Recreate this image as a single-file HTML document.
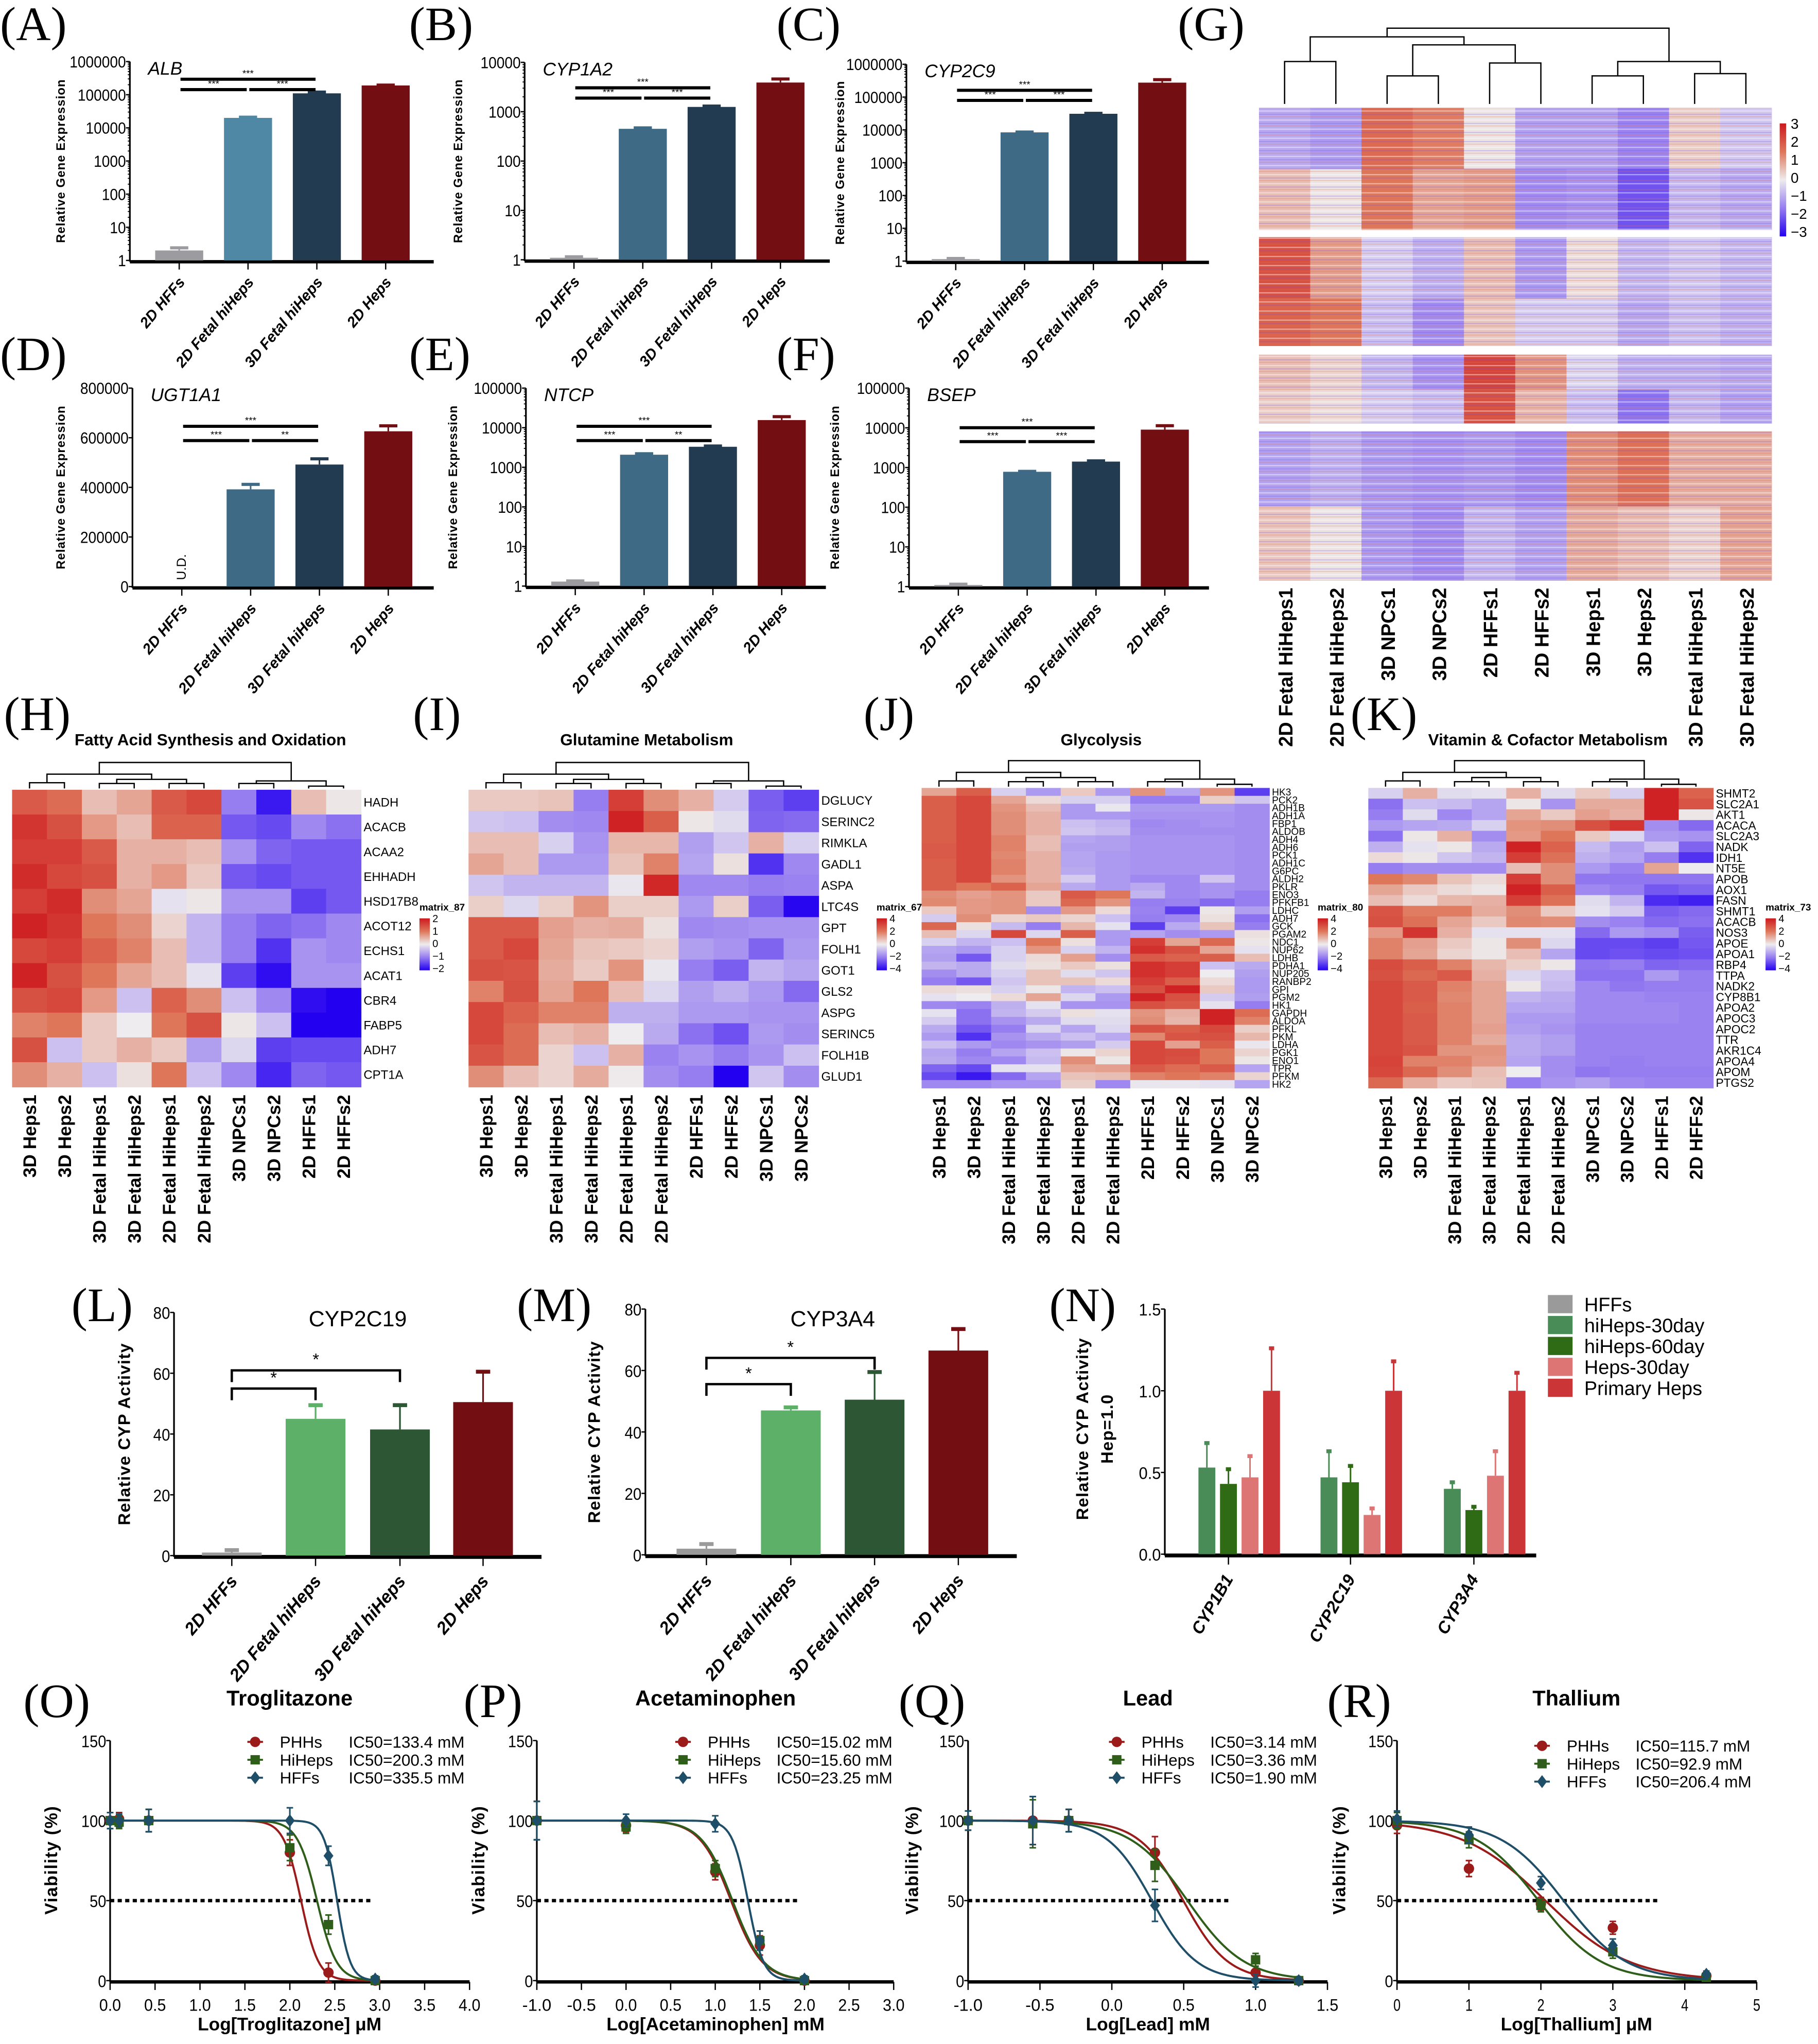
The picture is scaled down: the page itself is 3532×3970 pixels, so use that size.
<!DOCTYPE html>
<html><head><meta charset="utf-8"><style>
html,body{margin:0;padding:0;background:#fff;}
svg{display:block;}
text{font-family:"Liberation Sans",sans-serif;}
.pl{font-family:"Liberation Serif",serif;font-size:37px;}
</style></head><body>
<svg id="fig" xmlns="http://www.w3.org/2000/svg" width="3532" height="3970" viewBox="0 0 1400 1573.6" preserveAspectRatio="none">
<defs>
<pattern id="stripes" width="6" height="7" patternUnits="userSpaceOnUse"><rect x="0" y="1" width="6" height="0.9" fill="#fff" opacity="0.45"/><rect x="0" y="3.6" width="6" height="0.8" fill="#6a4ce8" opacity="0.28"/><rect x="0" y="5.6" width="6" height="0.7" fill="#e07050" opacity="0.3"/></pattern>
<linearGradient id="cbar" x1="0" y1="0" x2="0" y2="1"><stop offset="0" stop-color="#cd191e"/><stop offset="0.25" stop-color="#de765a"/><stop offset="0.5" stop-color="#eeecee"/><stop offset="0.75" stop-color="#967df0"/><stop offset="1" stop-color="#2300f0"/></linearGradient>
</defs>
<text class="pl" x="0" y="31">(A)</text>
<text class="pl" x="315" y="31">(B)</text>
<text class="pl" x="598" y="31">(C)</text>
<text class="pl" x="907" y="31">(G)</text>
<text class="pl" x="0" y="285">(D)</text>
<text class="pl" x="315" y="285">(E)</text>
<text class="pl" x="598" y="285">(F)</text>
<text class="pl" x="3" y="562">(H)</text>
<text class="pl" x="318" y="562">(I)</text>
<text class="pl" x="665" y="562">(J)</text>
<text class="pl" x="1040" y="562">(K)</text>
<text class="pl" x="55" y="1017">(L)</text>
<text class="pl" x="398" y="1017">(M)</text>
<text class="pl" x="808" y="1017">(N)</text>
<text class="pl" x="18" y="1322">(O)</text>
<text class="pl" x="357" y="1322">(P)</text>
<text class="pl" x="692" y="1322">(Q)</text>
<text class="pl" x="1022" y="1322">(R)</text>
</svg>
<script>
// ===== data: A-F gene expression =====
const exprCats=['2D HFFs','2D Fetal hiHeps','3D Fetal hiHeps','2D Heps'];
const albVals=[2,20000,110000,190000];
const albErr=[2.4,21000,120000,195000];
const cyp1a2Vals=[1.1,450,1250,3900];
const cyp1a2Err=[1.15,470,1300,4600];
const cyp2c9Vals=[1.15,8400,31000,276000];
const cyp2c9Err=[1.2,8600,32000,340000];
const ugtVals=[0,392000,492000,626000];
const ugtErr=[0,412000,515000,648000];
const ntcpVals=[1.3,2080,3300,15600];
const ntcpErr=[1.35,2200,3450,19000];
const bsepVals=[1.1,780,1410,9000];
const bsepErr=[1.15,800,1470,11300];
const logTickLabels=['1','10','100','1000','10000','100000','1000000'];
const ugtTicks=[0,200000,400000,600000,800000];
// ===== data: L-N CYP activity =====
const cypCats=['2D HFFs','2D Fetal hiHeps','3D Fetal hiHeps','2D Heps'];
const cyp2c19Act=[1,45,41.5,50.5];
const cyp2c19ActErr=[1.8,49.5,49.5,60.5];
const cyp3a4Act=[2,47,50.5,66.5];
const cyp3a4ActErr=[3.5,48,59.5,73.5];
const actTicks=[0,20,40,60,80];
const nGroups=['CYP1B1','CYP2C19','CYP3A4'];
const nSeries=['HFFs','hiHeps-30day','hiHeps-60day','Heps-30day','Primary Heps'];
const nHFF=[0,0,0];
const nHi30=[0.53,0.47,0.40];
const nHi60=[0.43,0.44,0.27];
const nHeps30=[0.47,0.24,0.48];
const nPrimary=[1.0,1.0,1.0];
const nHi30Err=[0.68,0.63,0.44];
const nHi60Err=[0.52,0.54,0.29];
const nHeps30Err=[0.60,0.28,0.63];
const nPrimaryErr=[1.26,1.18,1.11];
const nTicks=[0,0.5,1.0,1.5];
// ===== data: G heatmap (block means) =====
const gCols=['2D Fetal HiHeps1','2D Fetal HiHeps2','3D NPCs1','3D NPCs2','2D HFFs1','2D HFFs2','3D Heps1','3D Heps2','3D Fetal HiHeps1','3D Fetal HiHeps2'];
const gBlock1=[-0.9,-1.1,1.7,1.4,0.1,-1.0,-1.0,-1.4,0.4,-0.5];
const gBlock1b=[0.6,0.1,1.5,0.9,1.0,-1.3,-1.2,-2.0,-0.7,-0.9];
const gBlock2=[2.1,1.0,-0.4,-0.8,0.6,-1.1,0.2,-0.7,-0.5,-0.7];
const gBlock2b=[1.8,1.5,-0.6,-1.3,0.5,-0.4,-0.4,-0.9,-0.6,-0.8];
const gBlock3=[0.6,0.3,-0.7,-1.2,2.3,1.1,-0.3,-0.8,-0.8,-0.9];
const gBlock3b=[0.4,0.2,-0.4,-0.6,2.1,0.7,-0.6,-1.6,-0.7,-1.0];
const gBlock4=[-1.0,-0.8,-1.1,-1.2,-1.1,-1.3,1.2,1.6,0.8,0.8];
const gBlock4b=[0.5,0.1,-1.1,-1.3,-0.7,-1.0,0.8,0.6,0.3,0.9];
// ===== data: H-K heatmaps =====
const hCols=['3D Heps1','3D Heps2','3D Fetal HiHeps1','3D Fetal HiHeps2','2D Fetal HiHeps1','2D Fetal HiHeps2','3D NPCs1','3D NPCs2','2D HFFs1','2D HFFs2'];
const hRows=['HADH','ACACB','ACAA2','EHHADH','HSD17B8','ACOT12','ECHS1','ACAT1','CBR4','FABP5','ADH7','CPT1A'];
const hVals=[
[1.3,1.1,0.4,0.6,1.3,1.5,-1.0,-1.8,0.4,0.05],
[1.7,1.4,0.7,0.4,1.2,1.2,-1.3,-1.4,-0.9,-1.1],
[1.6,1.6,1.3,0.5,0.5,0.4,-0.8,-1.2,-1.3,-1.3],
[1.8,1.5,1.4,0.5,0.7,0.3,-1.3,-1.4,-1.3,-1.3],
[1.6,1.8,0.8,0.6,-0.1,0.05,-0.8,-0.8,-1.5,-1.3],
[1.9,1.7,1.0,0.8,0.2,-0.5,-1.0,-1.2,-1.1,-0.9],
[1.5,1.6,1.2,0.9,0.4,-0.5,-1.0,-1.6,-0.8,-0.9],
[1.9,1.4,1.0,0.6,0.4,-0.1,-1.5,-1.9,-0.8,-0.8],
[1.4,1.5,0.7,-0.4,1.2,0.8,-0.4,-0.9,-1.9,-2.0],
[0.9,1.0,0.3,0.0,1.0,1.4,0.05,-0.4,-2.0,-2.0],
[1.4,-0.4,0.3,0.5,0.3,-0.7,-0.2,-1.5,-1.4,-1.4],
[0.8,0.5,-0.4,0.1,1.0,-0.4,-0.9,-1.7,-1.2,-1.3]];
const iCols=['3D Heps1','3D Heps2','3D Fetal HiHeps1','3D Fetal HiHeps2','2D Fetal HiHeps1','2D Fetal HiHeps2','2D HFFs1','2D HFFs2','3D NPCs1','3D NPCs2'];
const iRows=['DGLUCY','SERINC2','RIMKLA','GADL1','ASPA','LTC4S','GPT','FOLH1','GOT1','GLS2','ASPG','SERINC5','FOLH1B','GLUD1'];
const iVals=[
[0.6,0.6,0.7,-2,3.2,1.6,1.0,-0.6,-2.5,-3],
[-0.7,-0.8,-1.7,-1.8,3.8,2.5,0.1,-0.3,-2.4,-2.3],
[0.8,0.8,-0.5,-1.6,0.9,0.9,-1.4,-0.7,1.0,-0.5],
[1.2,0.8,-1.5,-1.5,0.7,1.8,-1.3,0.2,-3.2,-1.8],
[-0.7,-1,-1,-1,-0.1,3.7,-1.8,-1.8,-2,-1.9],
[0.5,-0.4,0.5,1.5,0.5,0.5,-1.5,0.5,-2.5,-3.9],
[2.6,2.6,1.3,1.0,1.1,0.2,-1.8,-1.7,-1.6,-1.6],
[2.6,3.0,1.2,0.7,0.6,0.4,-1.4,-1.6,-2.4,-1.5],
[2.8,2.7,1.1,0.6,1.5,-0.1,-2,-2.5,-1,-1.3],
[1.8,2.8,1.2,2,0.8,-0.4,-1.4,-1.1,-1.5,-2.3],
[3.0,2.4,1.8,1.8,-1.1,-1.1,-1.5,-1.5,-1.6,-1.6],
[3.0,2.2,0.8,1.0,0,-1.2,-2.2,-2.7,-1.5,-1.7],
[2.7,2.2,0.4,-0.8,1.0,-1.9,-1.6,-2,-1.6,-0.8],
[1.6,0.8,0.4,1.1,0.05,-1.7,-2,-4,-0.7,-1.7]];
const jCols=['3D Heps1','3D Heps2','3D Fetal HiHeps1','3D Fetal HiHeps2','2D Fetal HiHeps1','2D Fetal HiHeps2','2D HFFs1','2D HFFs2','3D NPCs1','3D NPCs2'];
const jRows=['HK3','PCK2','ADH1B','ADH1A','FBP1','ALDOB','ADH4','ADH6','PCK1','ADH1C','G6PC','ALDH2','PKLR','ENO3','PFKFB1','LDHC','ADH7','GCK','PGAM2','NDC1','NUP62','LDHB','PDHA1','NUP205','RANBP2','GPI','PGM2','HK1','GAPDH','ALDOA','PFKL','PKM','LDHA','PGK1','ENO1','TPR','PFKM','HK2'];
const jVals=[
[1.2,2.5,-0.5,-1.5,0.6,-1.5,1.5,-1.3,1.5,-3],
[2.5,3,1.2,0.3,-0.5,-0.5,-2,-2,0.5,-0.7],
[2.5,3,1.5,0.8,-1.5,-0.1,-1.5,-1.5,-1.5,-1.7],
[2.5,3,1.6,1.0,-1.5,-1.5,-1.6,-1.6,-1.6,-1.7],
[2.5,3,1.6,1.0,-0.8,-1.0,-1.8,-1.7,-1.6,-1.7],
[2.5,3,1.6,1.0,-0.7,-0.9,-1.7,-1.7,-1.7,-1.7],
[2.5,3,1.8,0.8,-1.3,-1.4,-1.6,-1.6,-1.6,-1.7],
[2.6,3,1.8,0.8,-1.4,-1.4,-1.6,-1.6,-1.6,-1.7],
[2.6,3,1.7,1.0,-1.3,-1.5,-1.6,-1.6,-1.6,-1.7],
[2.5,3,1.8,1.0,-1.3,-1.5,-1.6,-1.6,-1.6,-1.7],
[2.5,3,1.8,1.0,-1.2,-1.5,-1.6,-1.6,-1.6,-1.7],
[2.5,3,1.5,1.0,-0.6,-1.5,-1.8,-1.8,-0.7,-1.7],
[2.5,2.0,2.4,1.2,-1.2,-1.5,-1.2,-1.8,-1.6,-1.7],
[1.6,1.3,1.5,0.6,2.6,2,-1,-1.8,-1.6,-2],
[1.7,1.4,1.5,0.6,2.3,1.5,-2.0,-1.9,-2.3,-2],
[0.6,1.4,1.5,-1.7,1.4,0.3,-1.9,-3,0.1,-1.4],
[-0.6,1.6,0.4,0.6,0.4,-0.8,-2,-1.8,0.2,-2.2],
[2.3,0.2,-0.9,-2,0.9,-0.2,-3,-1.2,0.7,-2],
[0.8,-0.4,3,-0.4,2.5,-1.5,-1.3,-1.7,-1.5,0.2],
[-0.5,-1,-0.8,2,0.2,-1.5,3.2,1.2,2.3,0.1],
[-1.3,-1.5,-0.5,1.5,-0.5,-1.0,3.5,2.8,1.2,-0.2],
[-1.4,-2.6,-0.5,0.3,1.3,-1.7,2.6,2.4,2.5,0.8],
[-1,-1.2,-0.3,0.2,0.6,0.2,3.5,3.2,-0.8,-1.2],
[-1.7,-1.2,-0.5,0.7,-0.3,-0.7,3.5,3.2,0.0,-1.4],
[-2,-2.6,-0.7,0.7,0.7,0.3,3.2,2.5,0.3,-1.5],
[0.3,0.2,-0.5,0.1,-1.0,-0.8,2.8,3.8,0.6,-1.5],
[-0.2,0.0,0.3,1.2,-0.4,-1.5,3.8,2.8,-0.6,-1.4],
[-1.8,-1.9,-1.1,-0.2,-1.6,-1.6,2.8,2.6,-0.2,-2.0],
[-0.2,-2.2,-1,-0.6,0.2,-0.2,1.5,1,3.8,2.2],
[-0.6,-2.2,-1.6,-1.2,-0.3,-0.3,1.6,0.9,3.8,1.8],
[-1.2,-2.6,-2,-0.4,-1.3,-0.4,2.8,2.5,3,0.5],
[-1.5,-3.2,-1.6,-1.2,-0.8,-1.2,1.7,2.7,2.8,0.9],
[-0.8,-1.5,-1.8,-1.6,-1.4,-0.6,3,1.3,2.5,-0.1],
[-1.3,-2,-1.3,-0.8,0.1,0.4,3,2.9,2,0.4],
[-1.2,-1.8,-1.8,-0.9,1.6,0.1,3,2.8,2,0.1],
[-2.4,-2.8,-0.2,-0.2,1.2,1.3,2.6,2.2,2.6,-1.3],
[-2.8,-3.6,-2.3,-1.3,0.7,0.8,1.8,2,1.8,0.4],
[-1.8,-1.8,-1.6,-1.6,0.5,-1.8,-0.1,-0.1,-0.2,-1.3]];
const kCols=['3D Heps1','3D Heps2','3D Fetal HiHeps1','3D Fetal HiHeps2','2D Fetal HiHeps1','2D Fetal HiHeps2','3D NPCs1','3D NPCs2','2D HFFs1','2D HFFs2'];
const kRows=['SHMT2','SLC2A1','AKT1','ACACA','SLC2A3','NADK','IDH1','NT5E','APOB','AOX1','FASN','SHMT1','ACACB','NOS3','APOE','APOA1','RBP4','TTPA','NADK2','CYP8B1','APOA2','APOC3','APOC2','TTR','AKR1C4','APOA4','APOM','PTGS2'];
const kVals=[
[-0.5,1,-0.3,-0.2,1,-0.3,0.6,-0.5,3.8,2.4],
[-2.2,-0.8,-0.9,-1.3,0.1,-1.6,1.1,1.1,3.8,2.7],
[-2,-0.3,-1.8,-1.3,1.2,0.6,1.3,1,3.8,0.1],
[-1.5,-1.3,-1.2,-0.5,1.5,1.6,2.8,3.4,-1.7,-2.3],
[-2.2,0.1,1.0,-1.7,1.4,2,0.6,-0.4,-1.5,-1.6],
[-1.1,-0.2,0.1,-1.2,3.8,2.4,-0.9,-1.4,-0.8,-2.4],
[0.3,0.1,-0.7,-1,3.2,2.1,-1.1,-1.3,-2,-3.2],
[-2,-1.7,-1.7,-1.7,0.8,1.6,-1.5,-1.9,1.2,0],
[2,1.7,0.7,0.3,3.2,1.6,-2.1,-2.1,-2.1,-2.1],
[1.2,0.6,0.3,0.1,3.8,2.5,-1.8,-2,-2.6,-2.4],
[0.8,0.3,0.9,1.0,3.2,2.1,-0.3,-1,-3.3,-3.5],
[2.7,1.9,1.9,1.1,1.6,0.6,-0.2,-0.6,-2.5,-2.3],
[2.8,2.1,1.2,0.6,1.7,1.6,-1.7,-1.9,-2.3,-2.2],
[1.4,3.4,1.0,-0.2,-0.2,-0.2,-2.3,-1.5,-1.7,-2.5],
[1.8,1.3,0.6,0.1,1.6,-0.4,-2.8,-2.8,-3,-2.6],
[1.8,1.2,0.4,0.1,0.8,-1.3,-2.8,-2.7,-2.8,-2.7],
[2.9,2.5,1.8,0.9,0.5,0.1,-2.1,-2,-2.4,-2.3],
[2.8,2.3,2.6,1,-0.4,-0.8,-2.2,-2.2,-1.5,-2],
[3,2.6,1.8,1.2,0.1,-0.9,-1.8,-2.1,-2,-2],
[3,2.6,1.7,1.2,-1,-1.2,-1.8,-1.8,-1.9,-1.9],
[3,2.5,1.8,1.2,-1.3,-1.3,-1.8,-1.8,-1.8,-1.9],
[3,2.6,1.8,1.2,-1.5,-1.5,-1.8,-1.8,-1.8,-1.9],
[3,2.6,1.8,1.3,-1.4,-1.6,-1.9,-1.9,-1.9,-1.9],
[3,2.6,1.8,1.1,-1.2,-1.4,-1.9,-1.9,-1.9,-1.9],
[3,2.7,1.5,1.5,-1.2,-1.4,-1.9,-1.9,-1.9,-1.9],
[3.1,1.8,1.8,1.4,-1.3,-1.7,-1.9,-2,-1.9,-1.9],
[3,2.3,1.6,0.8,0,-1.7,-2.1,-2,-2,-2],
[2.3,1.1,0.6,0.7,-2,-1.6,-1.4,-1.8,-1.9,-1.9]];
// ===== data: O-R dose response =====
const doseSeries=['PHHs','HiHeps','HFFs'];
const troX=[0,0.1,0.43,2.0,2.43,2.95];
const troPHH=[100,101,100,80,5,0];
const troHi=[100,99,100,83,35,0];
const troHFF=[100,100,100,100,78,1];
const troErr=[5,4,7,8,6,2];
const troLogIC=[2.125,2.302,2.526];
const troHill=[4.5,4,6];
const troIC=['IC50=133.4 mM','IC50=200.3 mM','IC50=335.5 mM'];
const apX=[-1,0,1,1.5,2];
const apPHH=[100,97,68,22,0];
const apHi=[100,96,70,25,0];
const apHFF=[100,100,98,25,1];
const apErr=[12,4,5,6,2];
const apLogIC=[1.177,1.193,1.366];
const apHill=[2.5,2.5,5];
const apIC=['IC50=15.02 mM','IC50=15.60 mM','IC50=23.25 mM'];
const pbX=[-1,-0.55,-0.3,0.3,1,1.3];
const pbPHH=[100,100,100,80,5,0];
const pbHi=[100,98,100,72,13,0];
const pbHFF=[100,100,100,47,0,0];
const pbErr=[6,15,7,10,4,2];
const pbLogIC=[0.497,0.526,0.279];
const pbHill=[2.8,2.2,2.8];
const pbIC=['IC50=3.14 mM','IC50=3.36 mM','IC50=1.90 mM'];
const tlX=[0,1,2,3,4.3];
const tlPHH=[97,70,48,33,3];
const tlHi=[100,88,47,18,2];
const tlHFF=[101,91,61,22,4];
const tlErr=[5,5,4,4,2];
const tlLogIC=[2.063,1.968,2.315];
const tlHill=[0.75,1.0,1.0];
const tlIC=['IC50=115.7 mM','IC50=92.9 mM','IC50=206.4 mM'];

// ===== helpers =====
const NS='http://www.w3.org/2000/svg';
const svg=document.getElementById('fig');
function mk(tag,attrs,parent){const e=document.createElementNS(NS,tag);for(const k in attrs)e.setAttribute(k,attrs[k]);(parent||svg).appendChild(e);return e;}
function nm(e,name,inter){
  
  
  return e;}
function txt(x,y,s,attrs,name){const e=mk('text',Object.assign({x:x,y:y},attrs||{}));e.textContent=s;nm(e,name||'label');return e;}
function line(x1,y1,x2,y2,st,w,name){return nm(mk('line',{x1:x1,y1:y1,x2:x2,y2:y2,stroke:st||'#000','stroke-width':w||1}),name||'line');}
function slug(s){return String(s).toLowerCase().replace(/[^a-z0-9]+/g,'-').replace(/^-|-$/g,'');}

// ===== bar chart A-F =====
function barPanel(p){
  const ymap=v=>{ if(p.log){const lv=Math.log10(Math.max(v,1));return p.yB-lv/p.dec*(p.yB-p.yT);} return p.yB-v/p.max*(p.yB-p.yT);};
  line(p.ax,p.yT,p.ax,p.yB+1,'#000',1.3,p.id+'-y-axis');
  line(p.ax,p.yB+1,p.end,p.yB+1,'#000',2.6,p.id+'-x-axis');
  const ticks=p.log?logTickLabels.slice(0,p.dec+1):p.ticks;
  ticks.forEach((t,i)=>{
    const v=p.log?Math.pow(10,i):t;const y=ymap(v);
    line(p.ax-3,y,p.ax,y,'#000',1,p.id+'-y-tick');
    if(p.log&&i<p.dec){for(let m=2;m<10;m++){const ym=ymap(v*m);line(p.ax-1.6,ym,p.ax,ym,'#000',0.7,p.id+'-minor-tick');}}
    const s=String(t);
    txt(p.ax-3,y+4.5,s,{'text-anchor':'end','font-size':12.5,textLength:s.length*6.2,lengthAdjust:'spacingAndGlyphs'},p.id+'-y-tick-label');
  });
  exprCats.forEach((c,i)=>{
    const cx=p.ax+38+53*i;
    line(cx,p.yB+1,cx,p.yB+7,'#000',1,p.id+'-x-tick');
    txt(cx+5,p.yB+17,c,{'text-anchor':'end','font-size':11.5,'font-weight':'bold','font-style':'italic',transform:'rotate(-50 '+(cx+5)+' '+(p.yB+17)+')'},p.id+'-x-label');
    const v=p.vals[i];
    if(v>0&&(!p.log||v>1)){
      const y=ymap(v),ye=ymap(p.errs[i]);
      nm(mk('rect',{x:cx-18.5,y:y,width:37,height:p.yB-y,fill:p.colors[i]}),p.id+'-bar-'+slug(c));
      if(ye<y-0.5){line(cx,y,cx,ye,p.colors[i],1.2,p.id+'-error-bar');}
      nm(mk('rect',{x:cx-7,y:ye-1.2,width:14,height:2.4,fill:p.colors[i]}),p.id+'-error-cap');
    }
  });
  if(p.ud){txt(p.ax+38+3,p.yB-5,'U.D.',{'font-size':10,transform:'rotate(-90 '+(p.ax+41)+' '+(p.yB-5)+')'},p.id+'-undetected-label');}
  txt(p.ax+14,p.yT+10,p.gene,{'font-size':14,'font-style':'italic'},p.id+'-gene-title');
  const cy=(p.yT+p.yB)/2;
  txt(p.ytx,cy,'Relative Gene Expression',{'text-anchor':'middle','font-size':9.5,'font-weight':'bold','letter-spacing':'0.4',transform:'rotate(-90 '+p.ytx+' '+cy+')'},p.id+'-y-axis-title');
  p.sigs.forEach(s=>{
    const x1=p.ax+38+53*s[0],x2=p.ax+38+53*s[1];
    line(x1+1,s[2],x2-1,s[2],'#000',2.4,p.id+'-significance-bar');
    txt((x1+x2)/2,s[2]-2,s[3],{'text-anchor':'middle','font-size':7.5},p.id+'-significance-stars');
  });
}
const colA=['#9c9ca0','#4f88a4','#233b50','#730f13'];
const colB=['#9c9ca0','#3e6a86','#233b50','#730f13'];
barPanel({id:'alb',ax:100,yT:47.4,yB:200.5,log:true,dec:6,end:334,vals:albVals,errs:albErr,colors:colA,gene:'ALB',ytx:50,sigs:[[0,2,61,'***'],[0,1,69,'***'],[1,2,69,'***']]});
barPanel({id:'cyp1a2',ax:404,yT:48,yB:200,log:true,dec:4,end:639,vals:cyp1a2Vals,errs:cyp1a2Err,colors:colB,gene:'CYP1A2',ytx:356,sigs:[[0,2,67.6,'***'],[0,1,75.5,'***'],[1,2,75.5,'***']]});
barPanel({id:'cyp2c9',ax:698,yT:49.5,yB:201,log:true,dec:6,end:931,vals:cyp2c9Vals,errs:cyp2c9Err,colors:colB,gene:'CYP2C9',ytx:650,sigs:[[0,2,69.5,'***'],[0,1,77.3,'***'],[1,2,77.3,'***']]});
barPanel({id:'ugt1a1',ax:102,yT:298.8,yB:451.6,log:false,max:800000,ticks:ugtTicks,end:334,vals:ugtVals,errs:ugtErr,colors:colB,gene:'UGT1A1',ytx:50,ud:true,sigs:[[0,2,328.2,'***'],[0,1,339.2,'***'],[1,2,339.2,'**']]});
barPanel({id:'ntcp',ax:405,yT:298.8,yB:451.2,log:true,dec:5,end:636,vals:ntcpVals,errs:ntcpErr,colors:colB,gene:'NTCP',ytx:352,sigs:[[0,2,328.2,'***'],[0,1,339.2,'***'],[1,2,339.2,'**']]});
barPanel({id:'bsep',ax:700,yT:298.8,yB:451.6,log:true,dec:5,end:931,vals:bsepVals,errs:bsepErr,colors:colB,gene:'BSEP',ytx:646,sigs:[[0,2,329.3,'***'],[0,1,340,'***'],[1,2,340,'***']]});

// ===== heatmap helpers =====
function hmColor(t){
  t=Math.max(-1,Math.min(1,t));
  const st=[[-1,[35,0,240]],[-0.5,[150,125,240]],[0,[238,236,238]],[0.5,[222,118,90]],[1,[205,25,30]]];
  for(let i=0;i<st.length-1;i++){if(t<=st[i+1][0]){const f=(t-st[i][0])/(st[i+1][0]-st[i][0]);const a=st[i][1],b=st[i+1][1];return 'rgb('+a.map((v,k)=>Math.round(v+(b[k]-v)*f)).join(',')+')';}}
  return 'rgb(205,25,30)';
}
function dendro(id,x0,cw,yLeaf,yTop,merges){
  const nodes=[];
  const pos=r=>{if(typeof r==='number')return {x:x0+cw*(r+0.5),y:yLeaf};return nodes[+r.slice(1)];};
  merges.forEach(m=>{
    const a=pos(m[0]),b=pos(m[1]);const y=yLeaf-(yLeaf-yTop)*m[2];
    nm(mk('path',{d:'M'+a.x+' '+a.y+'V'+y+'H'+b.x+'V'+b.y,fill:'none',stroke:'#000','stroke-width':1}),id+'-dendrogram-branch');
    nodes.push({x:(a.x+b.x)/2,y:y});
  });
}
const stdTree=[[0,1,0.22],[2,3,0.19],[4,5,0.19],['n1','n2',0.35],['n0','n3',0.55],[6,7,0.19],[8,9,0.09],['n5','n6',0.29],['n4','n7',1.0]];
function heatmap(p){
  const nr=p.rows.length,nc=p.cols.length;const cw=(p.x1-p.x0)/nc,rh=(p.y1-p.y0)/nr;
  p.vals.forEach((row,r)=>row.forEach((v,c)=>{
    nm(mk('rect',{x:p.x0+c*cw,y:p.y0+r*rh,width:cw+0.3,height:rh+0.3,fill:hmColor(v/p.vmax)}),p.id+'-cell');
  }));
  p.rows.forEach((g,r)=>txt(p.x1+2,p.y0+(r+0.5)*rh+p.fs*0.36,g,{'font-size':p.fs},p.id+'-row-label-'+slug(g)));
  p.cols.forEach((c,i)=>{const cx=p.x0+(i+0.5)*cw+5;txt(cx,p.y1+6,c,{'text-anchor':'end','font-size':14,'font-weight':'bold',transform:'rotate(-90 '+cx+' '+(p.y1+6)+')'},p.id+'-column-label');});
  dendro(p.id,p.x0,cw,p.y0-1,p.y0-21,stdTree);
  txt(p.tx,573.7,p.title,{'text-anchor':'middle','font-size':12.5,'font-weight':'bold'},p.id+'-title');
  txt(p.lx,701,p.legend,{'font-size':7.5,'font-weight':'bold'},p.id+'-legend-title');
  nm(mk('rect',{x:p.lx,y:707,width:8,height:40,fill:'url(#cbar)'}),p.id+'-colorbar');
  p.leg.forEach((l,i)=>txt(p.lx+10,710+i*9.6,l,{'font-size':8},p.id+'-colorbar-label'));
}
heatmap({id:'fatty-acid',x0:9.3,x1:278,y0:608,y1:836.8,rows:hRows,cols:hCols,vals:hVals,vmax:2,fs:9.5,title:'Fatty Acid Synthesis and Oxidation',tx:162,lx:323,legend:'matrix_87',leg:['2','1','0','\u22121','\u22122']});
heatmap({id:'glutamine',x0:360.8,x1:630.4,y0:608,y1:836.8,rows:iRows,cols:iCols,vals:iVals,vmax:4,fs:9.5,title:'Glutamine Metabolism',tx:498,lx:675,legend:'matrix_67',leg:['4','2','0','\u22122','\u22124']});
heatmap({id:'glycolysis',x0:709.7,x1:977.5,y0:606.6,y1:837.6,rows:jRows,cols:jCols,vals:jVals,vmax:4,fs:7.6,title:'Glycolysis',tx:848,lx:1014.7,legend:'matrix_80',leg:['4','2','0','\u22122','\u22124']});
heatmap({id:'vitamin',x0:1053.7,x1:1319.3,y0:606.6,y1:837.6,rows:kRows,cols:kCols,vals:kVals,vmax:4,fs:9,title:'Vitamin & Cofactor Metabolism',tx:1192,lx:1359.6,legend:'matrix_73',leg:['4','2','0','\u22122','\u22124']});

// ===== G heatmap =====
(function(){
  const x0=969.5,x1=1364.2,cw=(x1-x0)/10;
  const blocks=[[83,130,gBlock1],[130,177,gBlock1b],[182.6,230,gBlock2],[230,266.4,gBlock2b],[273,300,gBlock3],[300,326,gBlock3b],[332,390,gBlock4],[390,447,gBlock4b]];
  blocks.forEach(b=>b[2].forEach((v,c)=>{
    nm(mk('rect',{x:x0+c*cw,y:b[0],width:cw+0.3,height:b[1]-b[0],fill:hmColor(v/3)}),'g-heatmap-cell');
  }));
  [[83,177],[182.6,266.4],[273,326],[332,447]].forEach(b=>nm(mk('rect',{x:x0,y:b[0],width:x1-x0,height:b[1]-b[0],fill:'url(#stripes)'}),'g-heatmap-texture'));
  dendro('g',x0,cw,80,21.7,[[0,1,0.56],[2,3,0.37],[4,5,0.54],['n1','n2',0.78],['n0','n3',0.885],[6,7,0.37],[8,9,0.40],['n5','n6',0.56],['n4','n7',1.0]]);
  gCols.forEach((c,i)=>{const cx=x0+(i+0.5)*cw+6;txt(cx,452.5,c,{'text-anchor':'end','font-size':15,'font-weight':'bold',transform:'rotate(-90 '+cx+' 452.5)'},'g-column-label');});
  nm(mk('rect',{x:1370.5,y:95,width:5,height:87,fill:'url(#cbar)'}),'g-colorbar');
  ['3','2','1','0','\u22121','\u22122','\u22123'].forEach((l,i)=>txt(1379,99+i*13.9,l,{'font-size':11},'g-colorbar-label'));
})();

// ===== L, M activity bars =====
function actPanel(p){
  const ymap=v=>p.yB-v/80*(p.yB-p.yT);
  line(p.ax,p.yT,p.ax,p.yB+1,'#000',1.3,p.id+'-y-axis');
  line(p.ax,p.yB+1,p.end,p.yB+1,'#000',3,p.id+'-x-axis');
  actTicks.forEach(t=>{const y=ymap(t);line(p.ax-3,y,p.ax,y,'#000',1,p.id+'-y-tick');txt(p.ax-3,y+5,String(t),{'text-anchor':'end','font-size':13,textLength:String(t).length*6.5,lengthAdjust:'spacingAndGlyphs'},p.id+'-y-tick-label');});
  const cols=['#9a9a9a','#5cb068','#2d5734','#730f13'];
  cypCats.forEach((c,i)=>{
    const cx=p.centers[i];const y=ymap(p.vals[i]),ye=ymap(p.errs[i]);
    nm(mk('rect',{x:cx-23,y:y,width:46,height:p.yB-y,fill:cols[i]}),p.id+'-bar-'+slug(c));
    line(cx,y,cx,ye,cols[i],1.3,p.id+'-error-bar');
    nm(mk('rect',{x:cx-5.5,y:ye-1.5,width:11,height:3,fill:cols[i]}),p.id+'-error-cap');
    line(cx,p.yB+1,cx,p.yB+8,'#000',1,p.id+'-x-tick');
    txt(cx+5,p.yB+20,c,{'text-anchor':'end','font-size':13.5,'font-weight':'bold','font-style':'italic',transform:'rotate(-50 '+(cx+5)+' '+(p.yB+20)+')'},p.id+'-x-label');
  });
  txt((p.centers[1]+p.centers[2])/2,1021,p.title,{'text-anchor':'middle','font-size':17},p.id+'-title');
  const cy=(p.yT+p.yB)/2;
  txt(p.ytx,cy,'Relative CYP Activity',{'text-anchor':'middle','font-size':13,'font-weight':'bold','letter-spacing':'0.5',transform:'rotate(-90 '+p.ytx+' '+cy+')'},p.id+'-y-axis-title');
  p.br.forEach(b=>{
    const x1=p.centers[0],x2=p.centers[b[0]];
    nm(mk('path',{d:'M'+x1+' '+(b[1]+9)+'V'+b[1]+'H'+x2+'V'+(b[1]+9),fill:'none',stroke:'#000','stroke-width':1.8}),p.id+'-significance-bracket');
    txt((x1+x2)/2,b[1]-4,'*',{'text-anchor':'middle','font-size':13},p.id+'-significance-star');
  });
}
actPanel({id:'cyp2c19',ax:134,yT:1010.4,yB:1197.6,end:417,centers:[178.5,243,308,372],vals:cyp2c19Act,errs:cyp2c19ActErr,title:'CYP2C19',ytx:100,br:[[1,1069],[2,1055]]});
actPanel({id:'cyp3a4',ax:497,yT:1007.8,yB:1197,end:783,centers:[544,609,673.5,738],vals:cyp3a4Act,errs:cyp3a4ActErr,title:'CYP3A4',ytx:462,br:[[1,1065.6],[2,1045.4]]});

// ===== N grouped bars =====
(function(){
  const ax=897,yT=1007.8,yB=1196.5,end=1183;
  const ymap=v=>yB-v/1.5*(yB-yT);
  const gx=[946,1040,1135];
  const cols=['#9a9a9a','#4a8c57','#2f6b14','#de7575','#cc3537'];
  const series=[nHFF,nHi30,nHi60,nHeps30,nPrimary];
  const errs=[nHFF,nHi30Err,nHi60Err,nHeps30Err,nPrimaryErr];
  line(ax,yT,ax,yB+1,'#000',1.3,'n-y-axis');
  line(ax,yB+1,end,yB+1,'#000',3,'n-x-axis');
  nTicks.forEach(t=>{const y=ymap(t);line(ax-3,y,ax,y,'#000',1,'n-y-tick');txt(ax-3,y+5,t.toFixed(1),{'text-anchor':'end','font-size':13,textLength:17,lengthAdjust:'spacingAndGlyphs'},'n-y-tick-label');});
  nGroups.forEach((g,gi)=>{
    series.forEach((s,si)=>{
      if(s[gi]<=0)return;
      const cx=gx[gi]+(si-2)*16.6;const y=ymap(s[gi]),ye=ymap(errs[si][gi]);
      nm(mk('rect',{x:cx-6.5,y:y,width:13,height:yB-y,fill:cols[si]}),'n-bar-'+slug(g)+'-'+slug(nSeries[si]));
      line(cx,y,cx,ye,cols[si],1.2,'n-error-bar');
      nm(mk('rect',{x:cx-2,y:ye-1.5,width:4,height:3,fill:cols[si]}),'n-error-cap');
    });
    line(gx[gi],yB+1,gx[gi],yB+8,'#000',1,'n-x-tick');
    txt(gx[gi]+4,yB+19,g,{'text-anchor':'end','font-size':13,'font-weight':'bold','font-style':'italic',transform:'rotate(-60 '+(gx[gi]+4)+' '+(yB+19)+')'},'n-x-label');
  });
  nSeries.forEach((s,i)=>{
    const y=1004+i*16.1;
    nm(mk('rect',{x:1192,y:y-7,width:19,height:14,fill:cols[i]}),'n-legend-swatch');
    txt(1220,y+5.5,s,{'font-size':15},'n-legend-entry');
  });
  txt(838,1100,'Relative CYP Activity',{'text-anchor':'middle','font-size':13,'font-weight':'bold','letter-spacing':'0.5',transform:'rotate(-90 838 1100)'},'n-y-axis-title');
  txt(857,1100,'Hep=1.0',{'text-anchor':'middle','font-size':13,'font-weight':'bold','letter-spacing':'0.5',transform:'rotate(-90 857 1100)'},'n-y-axis-title-2');
})();

// ===== O-R dose response =====
const doseCols=['#9b1b1b','#2e5e1a','#1f4e68'];
function marker(shape,x,y,c,name){
  let e;
  if(shape===0)e=mk('circle',{cx:x,cy:y,r:4,fill:c});
  else if(shape===1)e=mk('rect',{x:x-3.6,y:y-3.6,width:7.2,height:7.2,fill:c});
  else e=mk('path',{d:'M'+x+' '+(y-5)+'L'+(x+3.8)+' '+y+'L'+x+' '+(y+5)+'L'+(x-3.8)+' '+y+'Z',fill:c});
  nm(e,name);return e;
}
function dosePanel(p){
  const ymap=v=>1524.8-v*1.232;
  const xmap=v=>p.x0+(v-p.xmin)*p.unit;
  line(p.ax,1340,p.ax,1525.8,'#000',1.3,p.id+'-y-axis');
  line(p.ax,1525.8,xmap(p.xticks[p.xticks.length-1]),1525.8,'#000',2.6,p.id+'-x-axis');
  [0,50,100,150].forEach(t=>{const y=ymap(t);line(p.ax-3,y,p.ax,y,'#000',1,p.id+'-y-tick');txt(p.ax-3,y+5,String(t),{'text-anchor':'end','font-size':13,textLength:String(t).length*6.4,lengthAdjust:'spacingAndGlyphs'},p.id+'-y-tick-label');});
  p.xticks.forEach(t=>{const x=xmap(t);line(x,1525.8,x,1532,'#000',1,p.id+'-x-tick');const s=p.dec?t.toFixed(1):String(t);txt(x,1548,s,{'text-anchor':'middle','font-size':13,textLength:s.length*5.6,lengthAdjust:'spacingAndGlyphs'},p.id+'-x-tick-label');});
  nm(mk('line',{x1:p.ax,y1:ymap(50),x2:p.dashEnd,y2:ymap(50),stroke:'#000','stroke-width':2.6,'stroke-dasharray':'3.2 2.6'}),p.id+'-ic50-reference-line');
  const ser=[p.phh,p.hi,p.hff];
  ser.forEach((s,si)=>{
    let d='';const x0=p.xs[0],x1=p.xs[p.xs.length-1];
    for(let k=0;k<=120;k++){const xv=x0+(x1-x0)*k/120;const yv=100/(1+Math.pow(10,p.hill[si]*(xv-p.logic[si])));d+=(k?'L':'M')+xmap(xv).toFixed(2)+' '+ymap(yv).toFixed(2);}
    nm(mk('path',{d:d,fill:'none',stroke:doseCols[si],'stroke-width':1.6}),p.id+'-fit-curve-'+slug(doseSeries[si]));
    s.forEach((v,i)=>{
      const x=xmap(p.xs[i]),y=ymap(v),e=p.err[i]*1.232;
      line(x,y-e,x,y+e,doseCols[si],1.2,p.id+'-error-bar');
      line(x-2.5,y-e,x+2.5,y-e,doseCols[si],1.2,p.id+'-error-cap');
      line(x-2.5,y+e,x+2.5,y+e,doseCols[si],1.2,p.id+'-error-cap');
      marker(si,x,y,doseCols[si],p.id+'-point-'+slug(doseSeries[si]));
    });
  });
  doseSeries.forEach((s,i)=>{
    const y=p.legY+i*13.8;
    line(p.legX-6,y,p.legX+6,y,doseCols[i],1.5,p.id+'-legend-line');
    marker(i,p.legX,y,doseCols[i],p.id+'-legend-marker');
    txt(p.legX+19,y+4.5,s,{'font-size':12.5},p.id+'-legend-label');
    txt(p.legX+72,y+4.5,p.ic[i],{'font-size':12.5},p.id+'-legend-ic50');
  });
  txt(p.tx,1313,p.title,{'text-anchor':'middle','font-size':16.5,'font-weight':'bold'},p.id+'-title');
  txt(p.tx,1563,p.xtitle,{'text-anchor':'middle','font-size':14,'font-weight':'bold'},p.id+'-x-axis-title');
  txt(p.ytx,1432,'Viability (%)',{'text-anchor':'middle','font-size':13.5,'font-weight':'bold','letter-spacing':'0.6',transform:'rotate(-90 '+p.ytx+' 1432)'},p.id+'-y-axis-title');
}
dosePanel({id:'troglitazone',ax:84.8,x0:84.8,xmin:0,unit:69.2,xticks:[0,0.5,1,1.5,2,2.5,3,3.5,4],dec:true,dashEnd:286,xs:troX,phh:troPHH,hi:troHi,hff:troHFF,err:troErr,logic:troLogIC,hill:troHill,ic:troIC,legX:196.5,legY:1341,tx:223,title:'Troglitazone',xtitle:'Log[Troglitazone] \u03bcM',ytx:44});
dosePanel({id:'acetaminophen',ax:413.4,x0:413.4,xmin:-1,unit:68.7,xticks:[-1,-0.5,0,0.5,1,1.5,2,2.5,3],dec:true,dashEnd:614,xs:apX,phh:apPHH,hi:apHi,hff:apHFF,err:apErr,logic:apLogIC,hill:apHill,ic:apIC,legX:526,legY:1341,tx:551,title:'Acetaminophen',xtitle:'Log[Acetaminophen] mM',ytx:373});
dosePanel({id:'lead',ax:745.5,x0:745.5,xmin:-1,unit:110.7,xticks:[-1,-0.5,0,0.5,1,1.5],dec:true,dashEnd:946,xs:pbX,phh:pbPHH,hi:pbHi,hff:pbHFF,err:pbErr,logic:pbLogIC,hill:pbHill,ic:pbIC,legX:860,legY:1341,tx:884,title:'Lead',xtitle:'Log[Lead] mM',ytx:707});
dosePanel({id:'thallium',ax:1075.8,x0:1075.8,xmin:0,unit:55.4,xticks:[0,1,2,3,4,5],dec:false,dashEnd:1277,xs:tlX,phh:tlPHH,hi:tlHi,hff:tlHFF,err:tlErr,logic:tlLogIC,hill:tlHill,ic:tlIC,legX:1187.5,legY:1344,tx:1214,title:'Thallium',xtitle:'Log[Thallium] \u03bcM',ytx:1036});
</script>
</body></html>
